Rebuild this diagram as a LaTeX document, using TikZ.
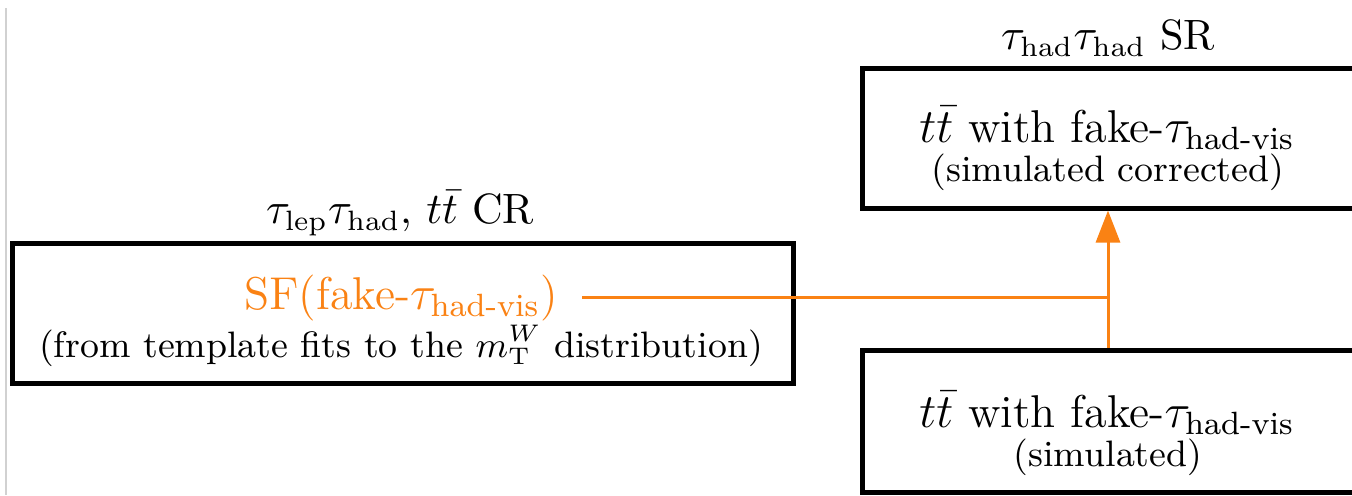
\documentclass[tikz,border=0pt]{standalone}
\usepackage{amsmath}
\usetikzlibrary{arrows.meta}
\definecolor{sforange}{RGB}{250,130,20}
\newcommand{\bigline}{\fontsize{11.5}{13}\selectfont}
\newcommand{\smallline}{\fontsize{9.2}{11}\selectfont}
\newcommand{\titleline}{\fontsize{10.6}{12}\selectfont}
\newcommand{\tauhv}{\tau_{\text{had-vis}}}
\begin{document}
\begin{tikzpicture}[x=0.25pt,y=-0.25pt,
  box/.style={draw=black,line width=1.25pt,rectangle,inner sep=0pt},
  txt/.style={inner sep=0pt,anchor=center},
  flow/.style={draw=sforange,line width=0.75pt},
  flowarrow/.style={flow,-{Triangle[length=8pt,width=6pt]}}]
\useasboundingbox (0,0) rectangle (1352,495);
\clip (0,0) rectangle (1352,495);
% page edge
\draw[black!18,line width=0.3pt] (6,8) -- (6,495);

% control region box
\node[box,minimum width=195.25pt,minimum height=35pt] (cr) at (402.5,313) {};
\node[txt] (crtitle) at (400,213) {\titleline $\tau_{\mathrm{lep}}\tau_{\mathrm{had}}$, $t\bar{t}$ CR};
\node[txt,text=sforange] (sf) at (401,298) {\bigline SF(fake-$\tauhv$)};
\node[txt] (fit) at (401,346) {\smallline (from template fits to the $m_{\mathrm{T}}^{W}$ distribution)};

% signal region boxes
\node[box,minimum width=123.5pt,minimum height=35pt] (corr) at (1109,138) {};
\node[txt] (srtitle) at (1108,38) {\titleline $\tau_{\mathrm{had}}\tau_{\mathrm{had}}$ SR};
\node[txt] (corr1) at (1107,128) {\bigline $t\bar{t}$ with fake-$\tauhv$};
\node[txt] (corr2) at (1108,172) {\smallline (simulated corrected)};

\node[box,minimum width=123.5pt,minimum height=35.5pt] (sim) at (1109,421) {};
\node[txt] (sim1) at (1107,413) {\bigline $t\bar{t}$ with fake-$\tauhv$};
\node[txt] (sim2) at (1108,457) {\smallline (simulated)};

% scale factor applied to the simulation
\coordinate (jn) at (1108,297);
\draw[flow] ([xshift=6pt]sf.east |- jn) -- (jn);
\draw[flowarrow] (sim.north -| jn) -- (corr.south -| jn);
\end{tikzpicture}
\end{document}
